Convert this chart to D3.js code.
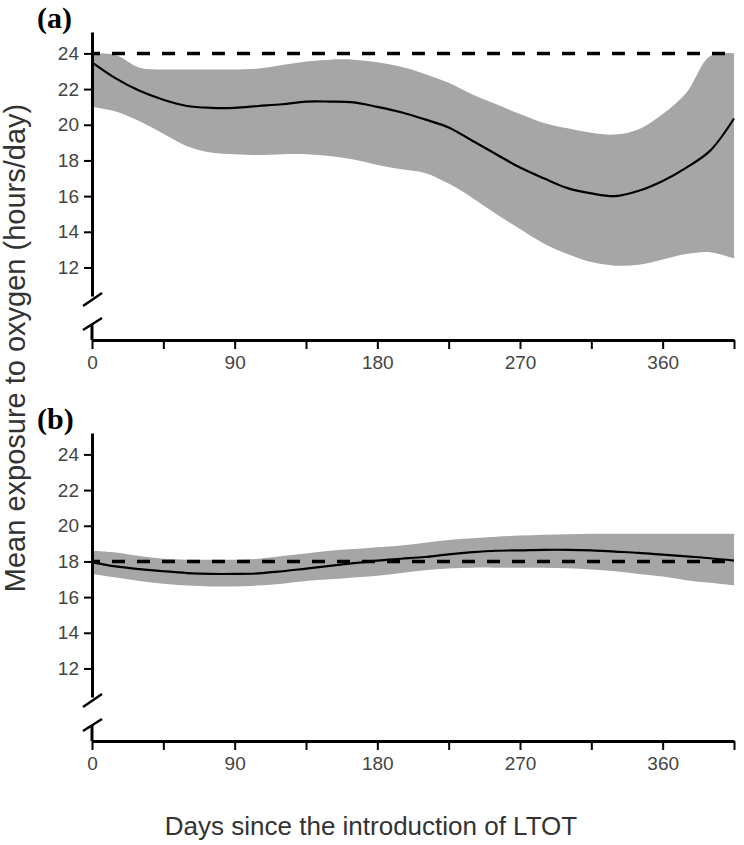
<!DOCTYPE html>
<html>
<head>
<meta charset="utf-8">
<script src="https://cdn.jsdelivr.net/npm/d3@7"></script>
<style>
  body { margin: 0; background: #fff; }
  svg { display: block; }
</style>
</head>
<body>
<div id="chart"></div>
<script>
// days since LTOT start (every 15 days)
var days = d3.range(0, 406, 15);

// panel (a)
var meanA = [23.5, 22.6, 21.9, 21.4, 21.05, 20.95, 20.95, 21.05, 21.15, 21.3, 21.3, 21.25, 21.0, 20.7,
  20.3, 19.85, 19.1, 18.35, 17.6, 17.0, 16.45, 16.15, 16.0, 16.3, 16.85, 17.6, 18.55, 20.35];
var upperA = [24.0, 23.9, 23.2, 23.1, 23.1, 23.1, 23.1, 23.15, 23.35, 23.55, 23.65, 23.65, 23.5, 23.25,
  22.85, 22.35, 21.7, 21.15, 20.6, 20.1, 19.8, 19.55, 19.45, 19.75, 20.6, 21.8, 23.85, 24.0];
var lowerA = [21.0, 20.75, 20.2, 19.5, 18.8, 18.45, 18.35, 18.3, 18.35, 18.35, 18.25, 18.05, 17.75, 17.5,
  17.3, 16.7, 15.9, 15.0, 14.15, 13.35, 12.75, 12.3, 12.1, 12.15, 12.45, 12.75, 12.85, 12.5];
var refA = 24;

// panel (b)
var meanB = [17.95, 17.72, 17.57, 17.45, 17.35, 17.3, 17.3, 17.33, 17.45, 17.6, 17.75, 17.9, 18.05, 18.15,
  18.25, 18.4, 18.52, 18.6, 18.62, 18.65, 18.65, 18.62, 18.55, 18.48, 18.38, 18.28, 18.18, 18.05];
var upperB = [18.6, 18.5, 18.3, 18.15, 18.1, 18.1, 18.1, 18.15, 18.3, 18.45, 18.6, 18.7, 18.8, 18.9,
  19.05, 19.2, 19.3, 19.38, 19.45, 19.5, 19.53, 19.55, 19.55, 19.55, 19.55, 19.55, 19.55, 19.55];
var lowerB = [17.3, 17.1, 16.9, 16.75, 16.65, 16.6, 16.6, 16.65, 16.75, 16.9, 17.0, 17.1, 17.2, 17.35,
  17.5, 17.6, 17.65, 17.65, 17.65, 17.65, 17.62, 17.55, 17.45, 17.3, 17.15, 16.95, 16.8, 16.65];
var refB = 18;

var yTicks = [12, 14, 16, 18, 20, 22, 24];
var xTicks = d3.range(0, 406, 45);

var svg = d3.select("#chart").append("svg")
  .attr("width", 744)
  .attr("height", 845);

var x = d3.scaleLinear().domain([0, 405]).range([92, 734]);
var smooth = d3.curveCatmullRom.alpha(0.5);

function panel(top, label, mean, upper, lower, ref) {
  var g = svg.append("g").attr("transform", "translate(0," + top + ")");
  var y = d3.scaleLinear().domain([10.4, 25.2]).range([296, 32]);

  var rows = days.map(function (d, i) {
    return { d: d, m: mean[i], lo: lower[i], hi: upper[i] };
  });

  g.append("path")
    .datum(rows)
    .attr("fill", "#a6a6a6")
    .attr("d", d3.area()
      .curve(smooth)
      .x(function (r) { return x(r.d); })
      .y0(function (r) { return y(r.lo); })
      .y1(function (r) { return y(r.hi); }));

  g.append("path")
    .datum(rows)
    .attr("fill", "none")
    .attr("stroke", "#000")
    .attr("stroke-width", 2.2)
    .attr("d", d3.line()
      .curve(smooth)
      .x(function (r) { return x(r.d); })
      .y(function (r) { return y(r.m); }));

  g.append("line")
    .attr("x1", x(0))
    .attr("x2", x(405))
    .attr("y1", y(ref))
    .attr("y2", y(ref))
    .attr("stroke", "#000")
    .attr("stroke-width", 3.5)
    .attr("stroke-dasharray", "13,12")
    .attr("stroke-dashoffset", 5);

  // y axis
  var ya = g.append("g")
    .attr("transform", "translate(92,0)")
    .call(d3.axisLeft(y).tickValues(yTicks).tickSize(8).tickSizeOuter(0).tickPadding(5));
  ya.select(".domain").attr("stroke-width", 3);
  ya.selectAll(".tick line").attr("stroke-width", 2);

  // axis break
  g.append("line").attr("x1", 92).attr("x2", 92).attr("y1", 324).attr("y2", 340)
    .attr("stroke", "#000").attr("stroke-width", 3);
  [[306, 293], [330, 318]].forEach(function (s) {
    g.append("line")
      .attr("x1", 83).attr("y1", s[0])
      .attr("x2", 102).attr("y2", s[1])
      .attr("stroke", "#000")
      .attr("stroke-width", 2.5);
  });

  // x axis
  var xa = g.append("g")
    .attr("transform", "translate(0,340)")
    .call(d3.axisBottom(x).tickValues(xTicks).tickSize(9).tickSizeOuter(0).tickPadding(7)
      .tickFormat(function (d) { return d % 90 === 0 ? d : ""; }));
  xa.select(".domain").attr("stroke-width", 3);
  xa.selectAll(".tick line").attr("stroke-width", 2);

  g.selectAll(".tick text")
    .attr("font-family", "Liberation Sans, Arial, sans-serif")
    .attr("font-size", 19)
    .attr("fill", "#444");

  g.append("text")
    .attr("x", 37)
    .attr("y", 28)
    .attr("font-family", "Liberation Serif, Times New Roman, serif")
    .attr("font-weight", "bold")
    .attr("font-size", 30)
    .text(label);
}

panel(0, "(a)", meanA, upperA, lowerA, refA);
panel(401, "(b)", meanB, upperB, lowerB, refB);

svg.append("text")
  .attr("x", 371)
  .attr("y", 835)
  .attr("text-anchor", "middle")
  .attr("font-family", "Liberation Sans, Arial, sans-serif")
  .attr("font-size", 26)
  .attr("fill", "#333")
  .text("Days since the introduction of LTOT");

svg.append("text")
  .attr("transform", "translate(25,348) rotate(-90)")
  .attr("text-anchor", "middle")
  .attr("font-family", "Liberation Sans, Arial, sans-serif")
  .attr("font-size", 29)
  .attr("fill", "#333")
  .text("Mean exposure to oxygen (hours/day)");
</script>
</body>
</html>
